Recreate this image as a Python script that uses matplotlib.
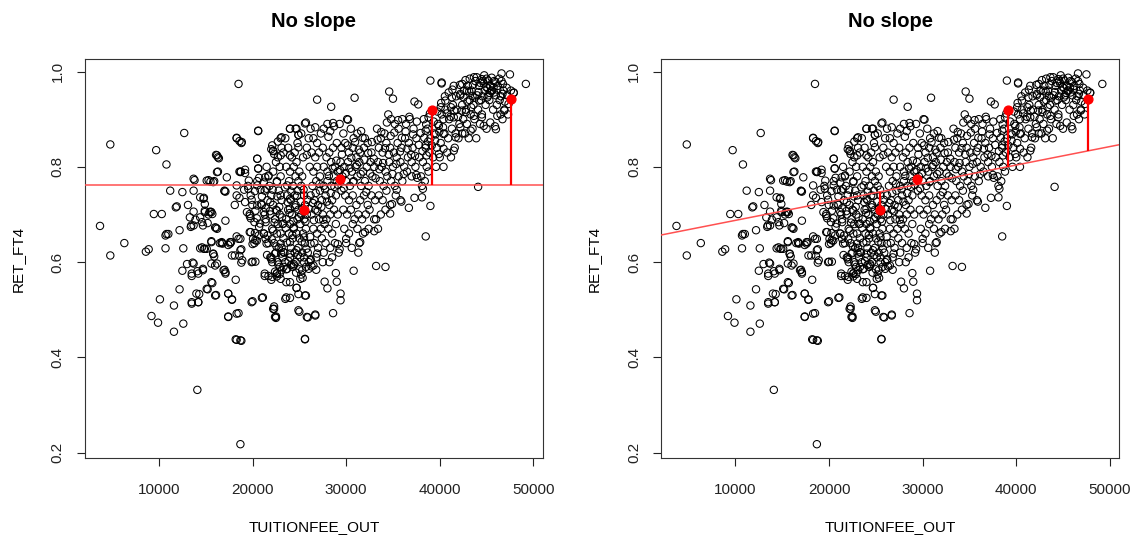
import numpy as np
import matplotlib
matplotlib.use('Agg')
import matplotlib.pyplot as plt

# (TUITIONFEE_OUT in thousands of $, RET_FT4)
sparse_pts = [
    (3.7, 0.676), (4.8, 0.847), (4.8, 0.614), (6.3, 0.640), (8.6, 0.622), (8.9, 0.627),
    (9.45, 0.701), (9.7, 0.835), (10.3, 0.701), (10.8, 0.805), (10.7, 0.656), (11.0, 0.659),
    (10.7, 0.629), (11.2, 0.750), (10.1, 0.522), (9.2, 0.487), (9.9, 0.473), (11.6, 0.509),
    (11.6, 0.454), (12.6, 0.471), (12.2, 0.543), (11.9, 0.717), (12.5, 0.747), (12.7, 0.871),
    (12.2, 0.667), (12.6, 0.629), (12.5, 0.582), (13.0, 0.596), (13.1, 0.720), (13.4, 0.674),
    (13.45, 0.677), (13.7, 0.750), (13.8, 0.772), (13.6, 0.599), (13.5, 0.571), (14.1, 0.581),
    (13.5, 0.513), (14.2, 0.516), (14.3, 0.533), (14.1, 0.332), (13.9, 0.689), (14.4, 0.629),
    (14.8, 0.628), (14.8, 0.735), (14.9, 0.708), (15.3, 0.700), (15.2, 0.682), (15.6, 0.705),
    (14.7, 0.586), (15.2, 0.543), (15.7, 0.556), (15.3, 0.772), (15.9, 0.770), (15.6, 0.644),
    (15.8, 0.617), (15.9, 0.612), (16.1, 0.672), (16.1, 0.825), (16.3, 0.820), (16.3, 0.790),
    (16.1, 0.531), (16.0, 0.593), (16.7, 0.640), (16.8, 0.639), (17.0, 0.750), (17.0, 0.584),
    (17.1, 0.579), (17.4, 0.636), (17.4, 0.534), (17.4, 0.486), (17.8, 0.522), (17.7, 0.642),
    (18.1, 0.614), (18.1, 0.720), (18.3, 0.861), (18.6, 0.854), (18.8, 0.850), (18.5, 0.974),
    (18.7, 0.218), (18.2, 0.438), (18.8, 0.435), (18.5, 0.493), (18.2, 0.563), (18.6, 0.790),
    (18.75, 0.790), (19.2, 0.794), (18.6, 0.735), (18.6, 0.613), (18.8, 0.599), (18.8, 0.627),
    (18.7, 0.649), (18.3, 0.654), (19.1, 0.752), (19.5, 0.760), (20.0, 0.518), (20.0, 0.601),
    (20.3, 0.601), (20.0, 0.638), (20.2, 0.640), (20.5, 0.817), (20.6, 0.875), (20.6, 0.797),
    (20.7, 0.777), (20.5, 0.770), (19.9, 0.731), (19.8, 0.692), (19.7, 0.663), (21.1, 0.526),
    (21.3, 0.571), (21.7, 0.571), (21.7, 0.780), (22.3, 0.507), (22.3, 0.502), (22.5, 0.486),
    (22.5, 0.483), (22.0, 0.837), (22.2, 0.833), (22.3, 0.827), (22.7, 0.853), (23.0, 0.860),
    (22.0, 0.606), (22.1, 0.600), (22.0, 0.563), (22.6, 0.577), (23.6, 0.526), (23.6, 0.558),
    (24.1, 0.594), (24.4, 0.596), (24.0, 0.880), (24.6, 0.880), (24.9, 0.867), (25.7, 0.893),
    (24.7, 0.546), (24.9, 0.533), (25.0, 0.496), (25.6, 0.438), (25.2, 0.574), (25.7, 0.530),
    (25.9, 0.484), (26.7, 0.490), (26.2, 0.606), (26.3, 0.591), (26.8, 0.584), (26.9, 0.941),
    (27.5, 0.600), (28.2, 0.600), (27.7, 0.559), (28.0, 0.545), (28.6, 0.493), (28.9, 0.577),
    (29.0, 0.559), (29.4, 0.534), (29.4, 0.520), (28.4, 0.926), (28.1, 0.863), (28.6, 0.892),
    (29.3, 0.627), (29.1, 0.638), (30.0, 0.649), (30.9, 0.945), (30.2, 0.899), (30.8, 0.582),
    (31.3, 0.620), (31.5, 0.642), (32.0, 0.663), (33.2, 0.592), (34.2, 0.590), (34.6, 0.958),
    (35.0, 0.943), (34.7, 0.702), (34.9, 0.722), (35.4, 0.752), (35.9, 0.727), (36.7, 0.714),
    (37.3, 0.937), (37.7, 0.931), (37.5, 0.783), (37.6, 0.777), (37.3, 0.735), (38.1, 0.760),
    (38.2, 0.754), (38.1, 0.736), (38.5, 0.654), (39.0, 0.718), (39.0, 0.981), (40.2, 0.977),
    (44.1, 0.758), (49.2, 0.974), (47.5, 0.994), (46.6, 0.996),
    (11.8, 0.715), (14.4, 0.736), (14.9, 0.722), (15.4, 0.705), (15.7, 0.701), (13.3, 0.694),
    (14.6, 0.684), (16.2, 0.670), (17.1, 0.687), (10.8, 0.659), (16.5, 0.640), (17.6, 0.642),
    (15.1, 0.628), (17.0, 0.749), (15.1, 0.771), (15.8, 0.768),
]

lower_mid_pts = [
    (14.4, 0.694), (14.7, 0.677), (13.7, 0.677), (16.0, 0.673), (15.6, 0.642), (16.7, 0.642),
    (17.6, 0.639), (18.5, 0.649), (14.6, 0.631), (14.9, 0.628), (15.8, 0.618), (15.6, 0.597),
    (16.2, 0.597), (17.8, 0.614), (18.7, 0.625), (18.9, 0.604), (19.9, 0.600), (13.7, 0.597),
    (13.5, 0.576), (14.2, 0.576), (14.7, 0.583), (16.9, 0.583), (17.1, 0.576), (15.1, 0.544),
    (15.6, 0.558), (14.0, 0.534), (16.0, 0.530), (13.5, 0.516), (14.2, 0.516), (17.4, 0.534),
    (17.8, 0.521), (18.3, 0.492), (17.4, 0.485), (19.9, 0.516), (21.0, 0.525), (22.2, 0.502),
    (22.4, 0.485), (18.3, 0.437), (18.7, 0.436), (25.6, 0.439), (24.0, 0.558), (24.7, 0.546),
    (25.1, 0.565), (25.6, 0.530), (24.0, 0.525), (23.5, 0.523), (24.9, 0.499), (25.8, 0.485),
    (26.7, 0.488), (21.3, 0.576), (22.1, 0.569), (22.6, 0.576), (23.1, 0.583), (23.7, 0.586),
    (24.4, 0.593), (25.3, 0.583), (26.0, 0.586), (26.5, 0.593), (21.9, 0.610), (22.4, 0.618),
    (23.3, 0.621), (24.0, 0.618), (24.7, 0.625), (25.5, 0.610), (26.2, 0.604), (26.9, 0.618),
    (19.7, 0.701), (20.8, 0.681), (21.2, 0.660), (20.3, 0.646), (22.2, 0.666), (23.3, 0.681),
    (24.4, 0.673), (25.5, 0.652), (26.2, 0.639), (21.5, 0.639), (23.0, 0.639), (24.0, 0.642),
]

upper_mid_pts = [
    (18.3, 0.860), (18.85, 0.852), (20.6, 0.876), (23.1, 0.862), (24.0, 0.880), (24.7, 0.880),
    (25.6, 0.891), (24.9, 0.867), (26.7, 0.883), (22.1, 0.845), (22.2, 0.834), (23.0, 0.824),
    (24.0, 0.824), (24.9, 0.841), (25.8, 0.825), (16.2, 0.824), (16.4, 0.818), (20.5, 0.817),
    (20.6, 0.796), (21.7, 0.782), (18.7, 0.789), (19.2, 0.787), (16.2, 0.789), (17.25, 0.778),
    (15.5, 0.769), (13.7, 0.775), (14.75, 0.733), (17.1, 0.748), (18.3, 0.761), (19.6, 0.771),
    (20.5, 0.761), (21.5, 0.754), (22.6, 0.768), (23.7, 0.761), (18.3, 0.740), (19.2, 0.726),
    (20.5, 0.719), (21.9, 0.726), (23.0, 0.740), (24.0, 0.733), (14.9, 0.705), (15.5, 0.706),
    (13.7, 0.706), (19.4, 0.705), (21.2, 0.705), (22.6, 0.708), (24.0, 0.712),
    (19.55, 0.754), (19.8, 0.740), (20.25, 0.749), (19.98, 0.720), (20.3, 0.708), (19.7, 0.697),
    (20.2, 0.684), (20.45, 0.692), (19.8, 0.663), (20.25, 0.661), (20.65, 0.656), (20.05, 0.649),
    (20.45, 0.645), (20.7, 0.674), (20.9, 0.722), (21.0, 0.738), (20.85, 0.752), (21.2, 0.767),
    (21.4, 0.713), (21.3, 0.700), (21.4, 0.684), (21.6, 0.656), (21.4, 0.649),
]

core_pts = [
    (21.5, 0.80), (21.8, 0.76), (22.0, 0.74), (22.2, 0.72), (21.9, 0.70), (22.4, 0.69),
    (22.1, 0.67), (22.6, 0.66), (22.3, 0.64), (22.8, 0.63), (22.5, 0.62), (22.0, 0.61),
    (22.7, 0.60), (22.9, 0.59), (22.4, 0.58), (22.6, 0.57), (22.9, 0.575), (23.0, 0.565),
    (22.2, 0.79), (22.5, 0.81), (22.7, 0.82), (22.9, 0.80), (23.0, 0.78), (22.6, 0.77),
    (22.8, 0.75), (23.1, 0.73), (22.5, 0.71), (22.9, 0.70), (23.2, 0.68), (22.7, 0.68),
    (23.0, 0.66), (23.3, 0.65), (23.1, 0.63), (23.4, 0.62), (23.2, 0.61), (23.5, 0.60),
    (23.3, 0.59), (23.6, 0.585), (21.6, 0.73), (21.4, 0.69), (21.2, 0.66), (21.7, 0.64),
    (21.0, 0.72), (21.3, 0.75),
    (23.5, 0.86), (23.8, 0.84), (24.2, 0.82), (23.6, 0.80), (24.0, 0.79), (24.4, 0.80),
    (24.7, 0.81), (25.0, 0.79), (23.9, 0.77), (24.3, 0.76), (24.6, 0.78), (24.9, 0.77),
    (25.3, 0.78), (23.7, 0.74), (24.1, 0.73), (24.5, 0.74), (24.8, 0.75), (25.2, 0.76),
    (25.5, 0.74), (23.8, 0.71), (24.2, 0.70), (24.6, 0.72), (24.9, 0.71), (25.2, 0.70),
    (25.6, 0.72), (23.6, 0.69), (24.0, 0.68), (24.4, 0.67), (24.8, 0.69), (25.1, 0.68),
    (25.5, 0.69), (25.8, 0.70), (23.9, 0.66), (24.3, 0.65), (24.7, 0.66), (25.0, 0.65),
    (25.4, 0.66), (25.7, 0.67), (24.1, 0.63), (24.5, 0.62), (24.9, 0.63), (25.3, 0.62),
    (25.6, 0.64), (24.0, 0.61), (24.6, 0.60), (25.1, 0.61), (25.5, 0.60), (25.9, 0.62),
    (24.3, 0.59), (25.0, 0.585), (25.7, 0.59), (26.0, 0.60), (24.5, 0.83), (24.8, 0.85),
    (25.4, 0.82), (25.8, 0.84), (26.0, 0.86), (25.2, 0.87), (23.3, 0.83), (23.1, 0.84),
    (26.2, 0.88), (26.5, 0.86), (26.9, 0.85), (27.3, 0.87), (27.6, 0.88), (28.0, 0.89),
    (28.3, 0.875), (28.7, 0.885), (26.3, 0.83), (26.7, 0.82), (27.1, 0.83), (27.5, 0.84),
    (27.9, 0.82), (28.2, 0.83), (28.6, 0.84), (29.0, 0.85), (26.1, 0.80), (26.5, 0.79),
    (26.9, 0.80), (27.2, 0.78), (27.6, 0.80), (28.0, 0.79), (28.4, 0.81), (28.8, 0.80),
    (29.1, 0.79), (26.4, 0.76), (26.8, 0.77), (27.2, 0.75), (27.6, 0.76), (28.0, 0.77),
    (28.4, 0.76), (28.7, 0.78), (29.0, 0.77), (26.2, 0.74), (26.6, 0.73), (27.0, 0.72),
    (27.4, 0.73), (27.8, 0.74), (28.2, 0.72), (28.5, 0.73), (28.9, 0.74), (26.3, 0.70),
    (26.7, 0.71), (27.1, 0.69), (27.5, 0.70), (27.9, 0.69), (28.3, 0.70), (28.7, 0.71),
    (29.1, 0.70), (26.5, 0.67), (26.9, 0.66), (27.3, 0.67), (27.7, 0.68), (28.1, 0.67),
    (28.5, 0.66), (28.9, 0.68), (26.6, 0.64), (27.0, 0.63), (27.4, 0.65), (27.8, 0.64),
    (28.3, 0.63), (28.8, 0.64), (26.8, 0.61), (27.6, 0.62), (28.5, 0.61), (29.2, 0.62),
]

right_mid_pts = [
    (29.3, 0.89), (29.7, 0.87), (30.1, 0.90), (30.5, 0.88), (30.8, 0.86), (31.2, 0.87),
    (31.6, 0.875), (32.0, 0.86), (29.5, 0.84), (29.9, 0.85), (30.3, 0.83), (30.7, 0.84),
    (31.1, 0.82), (31.5, 0.83), (31.9, 0.84), (32.3, 0.85), (32.7, 0.83), (29.4, 0.81),
    (29.8, 0.80), (30.2, 0.81), (30.6, 0.79), (31.0, 0.80), (31.4, 0.81), (31.8, 0.79),
    (32.2, 0.80), (32.6, 0.81), (33.0, 0.80), (29.6, 0.78), (30.0, 0.77), (30.4, 0.76),
    (30.8, 0.77), (31.2, 0.78), (31.6, 0.76), (32.0, 0.77), (32.4, 0.76), (32.8, 0.78),
    (29.5, 0.75), (29.9, 0.74), (30.3, 0.73), (30.7, 0.74), (31.1, 0.72), (31.5, 0.73),
    (31.9, 0.74), (32.3, 0.72), (32.7, 0.74), (33.1, 0.73), (29.7, 0.71), (30.1, 0.70),
    (30.5, 0.71), (30.9, 0.69), (31.3, 0.70), (31.7, 0.69), (32.1, 0.70), (32.5, 0.71),
    (33.0, 0.69), (29.8, 0.67), (30.3, 0.66), (30.7, 0.68), (31.2, 0.67), (31.8, 0.66),
    (32.4, 0.67), (33.0, 0.665), (33.4, 0.67), (30.0, 0.64), (30.6, 0.63), (31.4, 0.64),
    (33.3, 0.88), (33.7, 0.86), (34.1, 0.87), (34.5, 0.91), (34.8, 0.90), (35.2, 0.89),
    (35.6, 0.88), (36.0, 0.90), (36.4, 0.89), (36.8, 0.90), (37.2, 0.88), (33.5, 0.84),
    (33.9, 0.83), (34.3, 0.85), (34.7, 0.84), (35.1, 0.83), (35.5, 0.85), (35.9, 0.84),
    (36.3, 0.86), (36.7, 0.85), (37.1, 0.84), (37.5, 0.86), (33.4, 0.81), (33.8, 0.80),
    (34.2, 0.79), (34.6, 0.81), (35.0, 0.80), (35.4, 0.82), (35.8, 0.81), (36.2, 0.80),
    (36.6, 0.82), (37.0, 0.81), (37.4, 0.80), (37.8, 0.82), (33.6, 0.77), (34.0, 0.76),
    (34.4, 0.78), (34.8, 0.77), (35.2, 0.76), (35.6, 0.78), (36.0, 0.77), (36.5, 0.79),
    (37.0, 0.78), (33.5, 0.74), (33.9, 0.73), (34.3, 0.75), (34.7, 0.72), (35.3, 0.74),
    (35.8, 0.73), (33.7, 0.70), (34.2, 0.71), (33.2, 0.69),
]

# the diagonal band where the circles overlap most
band_pts = [
    (21.35, 0.778), (21.85, 0.707), (22.15, 0.752), (22.35, 0.683), (22.65, 0.738), (22.85, 0.716),
    (23.15, 0.694), (23.45, 0.757), (23.55, 0.672), (23.75, 0.726), (23.95, 0.703), (24.15, 0.748),
    (24.35, 0.686), (24.55, 0.715), (24.75, 0.739), (24.95, 0.694), (25.15, 0.727), (25.35, 0.713),
    (25.45, 0.752), (25.65, 0.685), (25.85, 0.731), (26.05, 0.712), (22.05, 0.648), (22.55, 0.633),
    (23.05, 0.618), (23.65, 0.641), (24.25, 0.657), (24.85, 0.615), (25.25, 0.643), (25.75, 0.628),
    (21.55, 0.615), (22.75, 0.595), (23.85, 0.602), (24.65, 0.578), (25.35, 0.567), (26.15, 0.653),
    (26.45, 0.724), (26.55, 0.688), (26.75, 0.745), (26.95, 0.707), (27.15, 0.764), (27.35, 0.716),
    (27.55, 0.689), (27.75, 0.753), (27.95, 0.727), (28.15, 0.781), (28.35, 0.745), (28.55, 0.797),
    (28.75, 0.758), (28.95, 0.813), (29.15, 0.762), (29.35, 0.793), (29.55, 0.826), (29.75, 0.755),
    (29.95, 0.787), (30.15, 0.845), (30.35, 0.797), (30.55, 0.819), (30.75, 0.768), (30.95, 0.852),
    (31.15, 0.804), (31.35, 0.836), (31.55, 0.785), (31.75, 0.861), (31.95, 0.815), (32.15, 0.747),
    (32.35, 0.829), (32.55, 0.786), (32.75, 0.852), (32.95, 0.817), (33.15, 0.776), (33.35, 0.857),
    (33.55, 0.795), (33.75, 0.873), (33.95, 0.808), (34.15, 0.839), (34.35, 0.893), (34.55, 0.826),
    (34.75, 0.865), (34.95, 0.785), (35.15, 0.872), (35.35, 0.806), (35.55, 0.898), (35.75, 0.832),
    (35.95, 0.861), (36.15, 0.785), (36.35, 0.874), (36.55, 0.838), (36.75, 0.905), (36.95, 0.826),
    (37.15, 0.868), (37.35, 0.823), (37.55, 0.895), (37.75, 0.846), (37.95, 0.871), (38.15, 0.833),
    (38.35, 0.861), (38.55, 0.889), (38.75, 0.853), (38.95, 0.912), (39.15, 0.845), (39.35, 0.895),
    (39.55, 0.868), (39.75, 0.916), (39.95, 0.874), (40.15, 0.934), (40.35, 0.883), (40.55, 0.948),
    (40.75, 0.912), (40.95, 0.956), (41.15, 0.905), (41.35, 0.962), (41.55, 0.918), (41.75, 0.948),
    (41.95, 0.905), (42.15, 0.972), (42.35, 0.918), (42.55, 0.946), (42.75, 0.982), (42.95, 0.937),
    (43.15, 0.958), (43.35, 0.925), (43.55, 0.972), (43.75, 0.945), (43.95, 0.988), (44.15, 0.957),
    (44.35, 0.976), (44.55, 0.948), (44.75, 0.992), (44.95, 0.968), (45.15, 0.981), (45.35, 0.955),
    (45.55, 0.987), (45.75, 0.967), (45.95, 0.978), (46.15, 0.962), (46.35, 0.985), (46.55, 0.948),
    (46.75, 0.974), (46.95, 0.937), (47.15, 0.966), (47.35, 0.932),
]

top_right_pts = [
    (38.3, 0.90), (38.7, 0.88), (39.0, 0.86), (39.4, 0.87), (39.8, 0.89), (40.2, 0.91),
    (40.6, 0.92), (41.0, 0.90), (41.4, 0.93), (41.8, 0.92), (38.5, 0.84), (38.9, 0.83),
    (39.3, 0.82), (39.7, 0.84), (40.1, 0.85), (40.5, 0.87), (40.9, 0.86), (41.3, 0.88),
    (41.7, 0.87), (42.1, 0.89), (38.2, 0.81), (38.6, 0.80), (39.6, 0.80), (40.0, 0.82),
    (40.4, 0.80), (40.8, 0.83), (41.2, 0.82), (41.6, 0.84), (42.0, 0.86), (42.4, 0.87),
    (38.0, 0.78), (38.4, 0.77), (38.8, 0.79),
    (42.2, 0.95), (42.6, 0.96), (43.0, 0.97), (43.4, 0.96), (43.8, 0.98), (44.2, 0.97),
    (44.6, 0.98), (45.0, 0.985), (45.4, 0.97), (45.8, 0.98), (46.2, 0.97), (46.6, 0.98),
    (42.4, 0.93), (42.8, 0.92), (43.2, 0.94), (43.6, 0.93), (44.0, 0.95), (44.4, 0.94),
    (44.8, 0.96), (45.2, 0.95), (45.6, 0.96), (46.0, 0.95), (46.4, 0.94), (46.8, 0.96),
    (47.2, 0.95), (42.5, 0.90), (42.9, 0.89), (43.3, 0.91), (43.7, 0.90), (44.1, 0.92),
    (44.5, 0.91), (44.9, 0.93), (45.3, 0.94), (45.7, 0.92), (46.1, 0.93), (46.5, 0.91),
    (46.9, 0.92), (42.7, 0.87), (43.1, 0.86), (43.5, 0.88), (44.3, 0.89), (45.0, 0.88),
    (45.9, 0.885), (46.7, 0.90), (47.3, 0.91), (43.9, 0.86), (47.6, 0.96), (47.9, 0.955),
    (45.5, 0.96), (45.1, 0.965), (44.7, 0.975), (43.2, 0.985),
    (40.2, 0.975), (41.5, 0.970), (42.4, 0.974), (43.65, 0.988), (44.5, 0.984), (47.9, 0.956),
    (46.7, 0.953), (45.4, 0.970), (45.8, 0.956), (45.1, 0.946), (44.2, 0.939), (43.5, 0.949),
    (42.9, 0.960), (42.2, 0.953), (41.3, 0.946), (40.6, 0.939), (40.1, 0.925), (41.2, 0.925),
    (42.8, 0.915), (43.65, 0.907), (44.5, 0.904), (45.4, 0.893), (46.15, 0.907), (46.9, 0.918),
    (46.0, 0.879), (44.7, 0.886), (43.3, 0.876), (42.2, 0.883), (41.5, 0.904), (40.4, 0.900),
    (39.9, 0.886), (38.8, 0.904), (38.5, 0.876), (40.4, 0.869), (41.7, 0.862), (39.5, 0.855),
    (38.5, 0.845), (40.4, 0.838), (41.5, 0.834), (38.6, 0.824), (39.9, 0.827),
]

# highlighted schools
sel_tuition = [25450, 29380, 39120, 47650]
sel_ret = [0.710, 0.775, 0.920, 0.942]

mean_ret = 0.762           # "no slope" line
fit_intercept = 0.649      # fitted line in the right panel
fit_slope = 3.87e-6

all_pts = np.array(sparse_pts + lower_mid_pts + upper_mid_pts + core_pts
                   + right_mid_pts + band_pts + top_right_pts)
tuition = all_pts[:, 0] * 1000
ret = all_pts[:, 1]

plt.rcParams['font.family'] = ['Liberation Sans', 'DejaVu Sans']

fig = plt.figure(figsize=(11.33, 5.35), dpi=100)
ax_left = fig.add_axes([0.075, 0.143, 0.404, 0.747])
ax_right = fig.add_axes([0.5838, 0.143, 0.404, 0.747])


def base_panel(ax):
    ax.scatter(tuition, ret, s=28, facecolors='none', edgecolors='black',
               linewidths=0.75, zorder=2)
    ax.set_xlim(2094, 51000)
    ax.set_ylim(0.188, 1.0266)
    ax.set_xticks([10000, 20000, 30000, 40000, 50000])
    ax.set_yticks([0.2, 0.4, 0.6, 0.8, 1.0])
    ax.set_yticklabels(['0.2', '0.4', '0.6', '0.8', '1.0'])
    ax.tick_params(direction='out', length=5.5, width=0.8, labelsize=11,
                   colors='#222222')
    ax.tick_params(axis='x', pad=12)
    ax.tick_params(axis='y', pad=9, labelrotation=90)
    for lab in ax.get_yticklabels():
        lab.set_va('center')
    for sp in ax.spines.values():
        sp.set_linewidth(0.8)
        sp.set_color('#333333')
    ax.set_xlabel('TUITIONFEE_OUT', fontsize=11, labelpad=17)
    ax.set_ylabel('RET_FT4', fontsize=11, labelpad=19)
    ax.set_title('No slope', fontsize=14.5, fontweight='bold', pad=23)


base_panel(ax_left)
ax_left.axhline(mean_ret, color='#ff5050', lw=1.1, zorder=3)
ax_left.vlines(sel_tuition, mean_ret, sel_ret, color='red', lw=1.6, zorder=4)
ax_left.scatter(sel_tuition, sel_ret, s=40, color='red', zorder=5)

base_panel(ax_right)
xs = np.array(ax_right.get_xlim())
ax_right.plot(xs, fit_intercept + fit_slope * xs, color='#ff5050', lw=1.1, zorder=3)
fitted = fit_intercept + fit_slope * np.array(sel_tuition)
ax_right.vlines(sel_tuition, fitted, sel_ret, color='red', lw=1.6, zorder=4)
ax_right.scatter(sel_tuition, sel_ret, s=40, color='red', zorder=5)
ax_right.set_xlim(xs)

fig.savefig('out.png', dpi=100)
